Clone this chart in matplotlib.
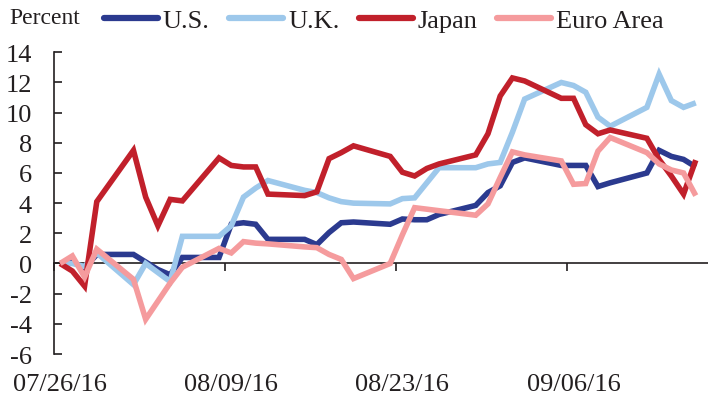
import matplotlib
matplotlib.use("Agg")
import matplotlib.pyplot as plt
import matplotlib.dates as mdates
import pandas as pd

plt.rcParams['font.family'] = ['Liberation Serif', 'DejaVu Serif']
plt.rcParams['axes.unicode_minus'] = False

dates = ["2016-07-26", "2016-07-27", "2016-07-28", "2016-07-29", "2016-08-01",
         "2016-08-02", "2016-08-03", "2016-08-04", "2016-08-05", "2016-08-08",
         "2016-08-09", "2016-08-10", "2016-08-11", "2016-08-12", "2016-08-15",
         "2016-08-16", "2016-08-17", "2016-08-18", "2016-08-19", "2016-08-22",
         "2016-08-23", "2016-08-24", "2016-08-25", "2016-08-26", "2016-08-29",
         "2016-08-30", "2016-08-31", "2016-09-01", "2016-09-02", "2016-09-05",
         "2016-09-06", "2016-09-07", "2016-09-08", "2016-09-09", "2016-09-12",
         "2016-09-13", "2016-09-14", "2016-09-15", "2016-09-16"]

us = [0, 0.1, -0.3, 0.6, 0.6, 0.1, -0.4, -0.75, 0.4, 0.4,
      2.6, 2.7, 2.6, 1.6, 1.6, 1.25, 2.05, 2.7, 2.75, 2.6,
      2.95, 2.9, 2.9, 3.25, 3.85, 4.7, 5.15, 6.7, 7.0, 6.5,
      6.5, 6.5, 5.1, 5.35, 6.0, 7.5, 7.1, 6.9, 6.4]

uk = [0, 0.0, -0.2, 0.7, -1.4, 0.0, -0.6, -1.2, 1.8, 1.8,
      2.5, 4.4, 5.0, 5.5, 4.85, 4.7, 4.35, 4.1, 4.0, 3.95,
      4.3, 4.35, 5.35, 6.35, 6.35, 6.6, 6.7, 8.7, 10.9, 12.0,
      11.8, 11.35, 9.7, 9.1, 10.35, 12.55, 10.8, 10.35, 10.65]

japan = [0, -0.5, -1.5, 4.1, 7.5, 4.4, 2.5, 4.25, 4.15, 7.0,
         6.5, 6.4, 6.4, 4.6, 4.5, 4.75, 6.95, 7.35, 7.8, 7.1,
         6.05, 5.8, 6.3, 6.6, 7.2, 8.6, 11.1, 12.3, 12.1, 10.95,
         10.95, 9.2, 8.6, 8.85, 8.3, 6.9, 5.8, 4.6, 6.85]

euro = [0, 0.5, -0.9, 0.95, -1.05, -3.7, -2.5, -1.3, -0.25, 1.0,
        0.7, 1.45, 1.35, 1.3, 1.1, 1.05, 0.6, 0.27, -1.0, 0.0,
        1.9, 3.7, 3.6, 3.5, 3.2, 3.95, 5.7, 7.4, 7.2, 6.8,
        5.25, 5.3, 7.45, 8.35, 7.35, 6.6, 6.2, 6.0, 4.5]

series_names = ["U.S.", "U.K.", "Japan", "Euro Area"]
colors = ["#2B3A8F", "#9DC8EB", "#C1202B", "#F59B9D"]
tick_dates = ["2016-07-26", "2016-08-09", "2016-08-23", "2016-09-06"]
tick_labels = ["07/26/16", "08/09/16", "08/23/16", "09/06/16"]
yticks = list(range(-6, 15, 2))

x = pd.to_datetime(dates)
dark = "#231F20"

fig = plt.figure(figsize=(7.08, 4.02), dpi=100)
ax = fig.add_axes([54/708, 1 - 355/402, 1 - 54/708, (355 - 53.3)/402])

for vals, name, c in zip([us, uk, japan, euro], series_names, colors):
    ax.plot(x, vals, color=c, lw=4.0, label=name, solid_joinstyle='miter',
            solid_capstyle='butt')

half = pd.Timedelta(hours=12)
ax.set_xlim(x[0] - half, pd.Timestamp("2016-09-17"))
ax.set_ylim(-6, 14)

tk = pd.to_datetime(tick_dates)
ax.set_xticks(tk)
ax.set_xticklabels(tick_labels)
ax.tick_params(axis='x', length=0, pad=14, labelsize=19, colors=dark)
ax.set_yticks(yticks)
ax.set_yticklabels([str(v) for v in yticks])
ax.tick_params(axis='y', direction='in', length=6, width=1.2, pad=16,
               labelsize=19, colors=dark)

for s in ['top', 'right', 'bottom']:
    ax.spines[s].set_visible(False)
ax.spines['left'].set_color(dark)
ax.spines['left'].set_linewidth(1.2)

sec = ax.secondary_xaxis(0, transform=ax.transData)
sec.set_xticks(tk - half)
sec.set_xticklabels([])
sec.tick_params(axis='x', direction='out', length=6, width=1.2, color=dark)
sec.spines['bottom'].set_color(dark)
sec.spines['bottom'].set_linewidth(1.2)
for s in ['top', 'left', 'right']:
    if s in sec.spines:
        sec.spines[s].set_visible(False)

fig.text(9/708, 1 - 24/402, "Percent", fontsize=17, color=dark, ha='left',
         va='baseline')

leg = fig.legend(loc='upper left', bbox_to_anchor=(104/708, 1 - 10/402), ncol=4,
                 frameon=False, fontsize=19, handlelength=2.05,
                 handletextpad=0.18, columnspacing=0.74, borderpad=0,
                 borderaxespad=0)
for t in leg.get_texts():
    t.set_color(dark)
for h in leg.get_lines():
    h.set_linewidth(4.5)
    h.set_solid_capstyle('round')

fig.savefig("out.png", dpi=100)
